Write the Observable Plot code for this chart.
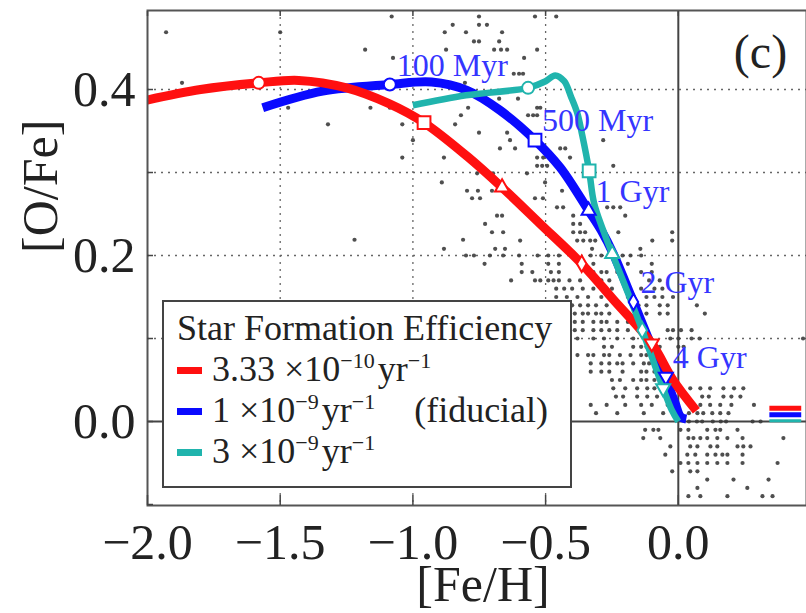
<!DOCTYPE html>
<html>
<head>
<meta charset="utf-8">
<script src="https://cdn.jsdelivr.net/npm/d3@7"></script>
<script src="https://cdn.jsdelivr.net/npm/@observablehq/plot@0.6"></script>
<style>
  body { margin: 0; background: #fff; }
  #wrap { position: relative; width: 806px; height: 613px; overflow: hidden; }
  #legend {
    position: absolute; left: 162px; top: 300px; width: 410px; height: 188px;
    box-sizing: border-box; border: 2px solid #444; background: #fff;
    font-family: "Liberation Serif", serif; font-size: 36px; color: #222;
    padding: 6px 0 0 13px; line-height: 41px;
  }
  #legend .row { white-space: nowrap; height: 41px; }
  #legend .sw { display: inline-block; width: 25px; height: 7px; vertical-align: middle;
    margin-right: 10px; position: relative; top: -2px; }
  #legend .sup { font-size: 22px; line-height: 0; position: relative; top: -13px; margin-right: 3px; }
</style>
</head>
<body>
<div id="wrap"></div>
<script>
// Axis ticks
const xTickLabels = [-2.0, -1.5, -1.0, -0.5, 0.0];
const yTickLabels = [0.0, 0.2, 0.4];
const yMinorTicks = [-0.1, 0.0, 0.1, 0.2, 0.3, 0.4];
const xGrid = [-1.5, -1.0, -0.5];
const yGrid = [0.1, 0.2, 0.3, 0.4];

// Observed stars, sparse metal-poor part: [Fe/H], [O/Fe]
const starsHalo = [
  [-1.93,0.469],[-1.87,0.408],[-1.50,0.469],[-1.47,0.378],[-1.32,0.358],[-1.22,0.219],
  [-1.18,0.448],[-1.16,0.378],[-1.08,0.488],[-1.075,0.438],[-1.087,0.378],[-1.04,0.358],
  [-1.04,0.318],[-1.00,0.339],[-0.88,0.469],[-0.85,0.478],[-0.80,0.469],[-0.875,0.448],
  [-0.883,0.318],[-0.841,0.358],[-0.819,0.369],[-0.891,0.288],[-0.796,0.278],[-0.811,0.219],
  [-0.883,0.208],[-0.792,0.378],[-0.804,0.408],
  [-0.751,0.488],[-0.54,0.488],[-0.46,0.488],[-0.751,0.478],[-0.721,0.478],[-0.664,0.469],
  [-0.77,0.458],[-0.751,0.458],[-0.675,0.458],[-0.532,0.448],[-0.645,0.448],[-0.694,0.448],
  [-0.668,0.448],[-0.581,0.438],[-0.62,0.419],[-0.60,0.419],[-0.585,0.419],[-0.675,0.389],
  [-0.604,0.389],[-0.532,0.378],[-0.52,0.378],[-0.566,0.369],[-0.547,0.369],[-0.532,0.369],
  [-0.751,0.348],[-0.645,0.348],[-0.634,0.339],[-0.672,0.329],[-0.615,0.329],[-0.445,0.329],
  [-0.426,0.329],[-0.532,0.318],[-0.509,0.318],[-0.532,0.308],[-0.513,0.308],[-0.494,0.308],
  [-0.758,0.299],[-0.698,0.299],[-0.57,0.299],[-0.502,0.288],[-0.755,0.278],[-0.702,0.278],
  [-0.438,0.278],[-0.777,0.269],[-0.747,0.269],[-0.54,0.269],[-0.51,0.269],[-0.577,0.258],
  [-0.457,0.258],[-0.434,0.258],[-0.683,0.248],[-0.664,0.248],[-0.396,0.248],[-0.728,0.238],
  [-0.396,0.238],[-0.37,0.238],[-0.702,0.228],[-0.66,0.228],[-0.396,0.228],[-0.37,0.228],
  [-0.351,0.228],[-0.596,0.218],[-0.332,0.218],[-0.313,0.218],[-0.69,0.208],[-0.653,0.208],
  [-0.325,0.208],[-0.283,0.339],[-0.408,0.318],[-0.245,0.308],[-0.434,0.299],[-0.268,0.258],
  [-0.245,0.258],[-0.219,0.258],[-0.2,0.248],[-0.023,0.228],[-0.226,0.228],[-0.381,0.218],
  [-0.358,0.218],[-0.098,0.218],[-0.023,0.218],[-0.143,0.208]
];

// Observed stars, dense disk part: one row per [O/Fe] level with its [Fe/H] values
const starsDisk = [
  [0.20, [-0.80,-0.77,-0.71,-0.66,-0.60,-0.53,-0.49,-0.45,-0.33,-0.29,-0.26,-0.21,-0.18,-0.14]],
  [0.19, [-0.73,-0.59,-0.49,-0.45,-0.32,-0.19,-0.10]],
  [0.18, [-0.59,-0.55,-0.48,-0.45,-0.32,-0.29,-0.27,-0.23,-0.14,-0.10]],
  [0.17, [-0.63,-0.54,-0.52,-0.49,-0.47,-0.45,-0.41,-0.37,-0.29,-0.26,-0.11,-0.07]],
  [0.16, [-0.46,-0.43,-0.40,-0.36,-0.32,-0.28,-0.25,-0.14,-0.09,-0.06]],
  [0.15, [-0.46,-0.42,-0.38,-0.34,-0.29,-0.25,-0.19,-0.12,-0.09,-0.06,-0.02]],
  [0.14, [-0.40,-0.37,-0.34,-0.31,-0.27,-0.23,-0.15,-0.12,-0.07,-0.04,0.07]],
  [0.13, [-0.39,-0.36,-0.34,-0.31,-0.29,-0.26,-0.12,-0.07,-0.04,0.10]],
  [0.12, [-0.39,-0.36,-0.32,-0.29,-0.27,-0.23,-0.19]],
  [0.11, [-0.39,-0.36,-0.32,-0.29,-0.26,-0.23,-0.19,-0.15,-0.04,-0.02,0.01,0.05]],
  [0.10, [-0.38,-0.32,-0.28,-0.23,-0.17,-0.12,-0.03,0.00,0.05,0.08,0.47]],
  [0.09, [-0.28,-0.25,-0.17,-0.14,-0.12,-0.07,0.00,0.02]],
  [0.08, [-0.38,-0.34,-0.32,-0.28,-0.26,-0.22,-0.18,-0.14,-0.12,-0.09]],
  [0.07, [-0.33,-0.29,-0.26,-0.23,-0.21,-0.17,-0.13,-0.11]],
  [0.06, [-0.33,-0.29,-0.26,-0.21,-0.14,-0.12,-0.09,-0.07]],
  [0.05, [-0.25,-0.22,-0.17,-0.14,-0.12,-0.09,-0.02]],
  [0.04, [-0.245,-0.20,-0.155,-0.117,-0.09,0.045,0.083,0.12,0.17,0.21,0.245]],
  [0.03, [-0.235,-0.208,-0.155,-0.117,-0.08,0.09,0.115,0.17,0.20,0.234]],
  [0.02, [-0.33,-0.27,-0.20,-0.14,-0.10,-0.04,0.083,0.12,0.158,0.20,0.285]],
  [0.01, [-0.31,-0.23,-0.13,-0.057,0.04,0.072,0.094,0.128,0.158,0.189]],
  [0.00, [0.04,0.07,0.09,0.13,0.16,0.18,0.28,0.31]],
  [-0.01, [-0.125,-0.094,-0.075,0.008,0.038,0.109,0.14,0.158,0.223]],
  [-0.02, [-0.132,-0.068,0.038,0.057,0.083,0.109,0.147,0.185,0.242,0.396]],
  [-0.03, [-0.03,0.045,0.072,0.121,0.147,0.223,0.245,0.272]],
  [-0.04, [-0.049,0.034,0.064,0.109,0.14,0.166,0.185,0.242]],
  [-0.05, [0.008,0.038,0.072,0.109,0.147,0.185,0.242,0.374]],
  [-0.06, [-0.023,0.045,0.072]],
  [-0.07, [0.109,0.208,0.34]],
  [-0.08, [0.072,0.26]],
  [-0.09, [0.038,0.083,0.185,0.317,0.355]]
];

// Model tracks for three star formation efficiencies: [Fe/H], [O/Fe]
const trackLow = [
  [-2.02,0.386],[-1.8,0.400],[-1.581,0.408],[-1.43,0.411],[-1.25,0.402],[-1.09,0.383],
  [-0.958,0.36],[-0.79,0.318],[-0.664,0.282],[-0.52,0.238],[-0.364,0.19],[-0.245,0.147],
  [-0.10,0.094],[-0.02,0.05],[0.068,0.013]
];
const trackFid = [
  [-1.566,0.378],[-1.34,0.398],[-1.087,0.406],[-0.93,0.409],[-0.796,0.399],[-0.672,0.375],
  [-0.54,0.339],[-0.445,0.306],[-0.338,0.254],[-0.29,0.23],[-0.245,0.202],[-0.169,0.144],
  [-0.11,0.098],[-0.049,0.053],[-0.012,0.022],[0.008,0.006],[0.03,0.003]
];
const trackHigh = [
  [-1.0,0.381],[-0.8,0.393],[-0.566,0.402],[-0.5,0.41],[-0.464,0.417],[-0.43,0.41],
  [-0.405,0.392],[-0.381,0.372],[-0.362,0.345],[-0.336,0.302],[-0.318,0.264],[-0.285,0.232],
  [-0.249,0.202],[-0.19,0.155],[-0.136,0.11],[-0.1,0.078],[-0.057,0.04],[-0.025,0.014],[0.0,0.0]
];

// Ages marked along each track: 100 Myr, 500 Myr, 1 Gyr, 2 Gyr, 4 Gyr
const ageLabels = ["100 Myr", "500 Myr", "1 Gyr", "2 Gyr", "4 Gyr"];
const ageSymbols = ["circle", "square", "triangle", "diamond", "triangle"];
const markLow  = [[-1.581,0.408],[-0.958,0.36],[-0.664,0.282],[-0.364,0.19],[-0.10,0.094]];
const markFid  = [[-1.087,0.406],[-0.54,0.339],[-0.338,0.254],[-0.169,0.144],[-0.047,0.054]];
const markHigh = [[-0.566,0.402],[-0.336,0.302],[-0.249,0.202],[-0.136,0.11],[-0.057,0.04]];

// Present-day values shown at the right edge
const finalSpan = [0.345, 0.465];
const finalLow = 0.016, finalFid = 0.008, finalHigh = 0.001;

// Legend text
const sfeMantissa = ["3.33", "1", "3"];
const sfeExponent = ["\u221210", "\u22129", "\u22129"];
const sfeNote = ["", "(fiducial)", ""];
const sfeColors = ["#ff1010", "#0a0aff", "#20b4ad"];

const series = [
  {track: trackFid, marks: markFid, final: finalFid, color: sfeColors[1], width: 9, fw: 5},
  {track: trackLow, marks: markLow, final: finalLow, color: sfeColors[0], width: 9, fw: 5},
  {track: trackHigh, marks: markHigh, final: finalHigh, color: sfeColors[2], width: 6.5, fw: 3}
];

const stars = starsHalo.concat(starsDisk.flatMap(([y, xs]) => xs.map(x => [x, y])));

const symbolR = {circle: 6, square: 7.2, triangle: 5.2, diamond: 5};

const marks = [
  Plot.gridX(xGrid, {stroke: "#666", strokeOpacity: 1, strokeWidth: 1.3, strokeDasharray: "2,5"}),
  Plot.gridY(yGrid, {stroke: "#666", strokeOpacity: 1, strokeWidth: 1.3, strokeDasharray: "2,5"}),
  Plot.ruleX([0], {stroke: "#444", strokeWidth: 2}),
  Plot.ruleY([0], {stroke: "#444", strokeWidth: 2}),
  Plot.dot(stars, {x: d => d[0], y: d => d[1], r: 2.1, fill: "#3c3c3c", fillOpacity: 0.9, stroke: null})
];

for (const s of series) {
  marks.push(Plot.line(s.track, {x: d => d[0], y: d => d[1], stroke: s.color, strokeWidth: s.width,
    curve: "catmull-rom", strokeLinecap: "butt", clip: true}));
  marks.push(Plot.ruleY([s.final], {x1: finalSpan[0], x2: finalSpan[1], stroke: s.color, strokeWidth: s.fw}));
}
for (const s of series) {
  s.marks.forEach((m, i) => {
    marks.push(Plot.dot([m], {x: d => d[0], y: d => d[1], symbol: ageSymbols[i], r: symbolR[ageSymbols[i]],
      rotate: i === 4 ? 180 : 0, fill: "white", stroke: s.color, strokeWidth: 2}));
  });
}

// Age labels sit next to the fiducial track markers
marks.push(Plot.text(markFid.map((m, i) => ({x: m[0], y: m[1], t: ageLabels[i]})), {
  x: "x", y: "y", text: "t", dx: 7, dy: -9, textAnchor: "start", lineAnchor: "bottom",
  fontSize: 32, fill: "#3535ff"
}));

marks.push(
  Plot.frame({stroke: "#555", strokeWidth: 2}),
  // inward ticks
  Plot.axisY({ticks: yMinorTicks, tickSize: 6, dx: 6, tickFormat: () => "", label: null, stroke: "#444", strokeWidth: 1.5}),
  Plot.axisX({ticks: xTickLabels, tickSize: 10, dy: -10, tickFormat: () => "", label: null, stroke: "#444", strokeWidth: 1.5}),
  Plot.axisX({anchor: "top", ticks: xTickLabels, tickSize: 5, dy: 5, tickFormat: () => "", label: null, stroke: "#444", strokeWidth: 1.5}),
  // tick labels
  Plot.axisY({ticks: yTickLabels, tickSize: 0, tickPadding: 12, tickFormat: d3.format(".1f"), fontSize: 50, label: null, fill: "#222"}),
  Plot.axisX({ticks: xTickLabels, tickSize: 0, tickPadding: 18, tickFormat: d3.format(".1f"), fontSize: 50, label: null, fill: "#222"}),
  // axis titles and panel tag
  Plot.text(["[O/Fe]"], {frameAnchor: "left", dx: -107, dy: -5, rotate: -90, fontSize: 50, fill: "#222", lineAnchor: "middle"}),
  Plot.text(["[Fe/H]"], {frameAnchor: "bottom", dx: 6, dy: 95, fontSize: 50, fill: "#222", lineAnchor: "bottom"}),
  Plot.text(["(c)"], {frameAnchor: "top-right", dx: -46, dy: 57, fontSize: 48, fill: "#222", lineAnchor: "bottom", textAnchor: "middle"})
);

const chart = Plot.plot({
  width: 806, height: 613,
  marginLeft: 147, marginRight: 0, marginTop: 10, marginBottom: 108,
  x: {domain: [-2, 0.483]},
  y: {domain: [-0.1012, 0.4952]},
  style: {fontFamily: "'Liberation Serif', serif", background: "white", color: "#222", overflow: "visible"},
  marks
});

const wrap = document.getElementById("wrap");
wrap.appendChild(chart);

// Legend box
const legend = document.createElement("div");
legend.id = "legend";
let html = `<div class="row">Star Formation Efficiency</div>`;
sfeMantissa.forEach((m, i) => {
  html += `<div class="row"><span class="sw" style="background:${sfeColors[i]}"></span>` +
    `${m} \u00d710<span class="sup">${sfeExponent[i]}</span>yr<span class="sup">\u22121</span>` +
    (sfeNote[i] ? `\u2002\u2002${sfeNote[i]}` : "") + `</div>`;
});
legend.innerHTML = html;
wrap.appendChild(legend);
</script>
</body>
</html>
